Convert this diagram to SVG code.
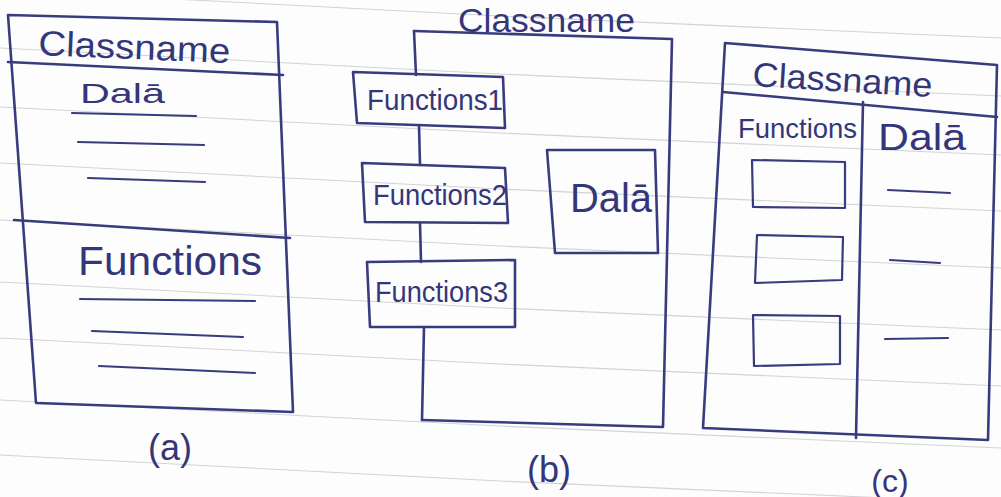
<svg xmlns="http://www.w3.org/2000/svg" width="1001" height="497" viewBox="0 0 1001 497">
<style>
.ink{fill:none;stroke:#383c7e;stroke-width:2.6;stroke-linejoin:round;stroke-linecap:round}
.thin{stroke-width:2.2}
.t{fill:#33377a;font-family:"Liberation Sans",Arial,sans-serif}
.rule{stroke:#d3d3d6;stroke-width:1.1;fill:none}
</style>
<rect width="1001" height="497" fill="#fdfdfd"/>
<g id="paper-rules">
<path class="rule" d="M0,-10 L500,16 L1001,38"/>
<path class="rule" d="M0,48 L500,74 L1001,96"/>
<path class="rule" d="M0,107 L500,133 L1001,155"/>
<path class="rule" d="M0,163 L500,189 L1001,211"/>
<path class="rule" d="M0,220 L500,246 L1001,268"/>
<path class="rule" d="M0,282 L500,308 L1001,330"/>
<path class="rule" d="M0,338 L500,364 L1001,386"/>
<path class="rule" d="M0,400 L500,426 L1001,448"/>
<path class="rule" d="M0,455 L500,481 L1001,503"/>
</g>

<!-- Panel (a) -->
<g id="class-a">
<path class="ink" d="M8,15 L277,22 L293,412 L36,403 Z"/>
<path class="ink" d="M8,62 L283,75"/>
<path class="ink" d="M14,220 L290,238"/>
<text class="t" x="38" y="55" font-size="35" textLength="192" lengthAdjust="spacingAndGlyphs" transform="rotate(2.4 38 55)">Classname</text>
<text class="t" x="80" y="103" font-size="28" textLength="85" lengthAdjust="spacingAndGlyphs">Dalā</text>
<path class="ink thin" d="M72,113 L196,116 M78,142 L204,145 M88,178 L205,182"/>
<text class="t" x="78" y="275" font-size="40" textLength="184" lengthAdjust="spacingAndGlyphs">Functions</text>
<path class="ink thin" d="M80,299 L255,301 M92,331 L243,337 M99,366 L255,373"/>
</g>
<text id="label-a" class="t" x="170" y="460" font-size="36" text-anchor="middle">(a)</text>

<!-- Panel (b) -->
<g id="class-b">
<path class="ink" d="M414,31 L672,39 L663,427 L422,420"/>
<text class="t" x="458" y="32" font-size="34" textLength="177" lengthAdjust="spacingAndGlyphs">Classname</text>
</g>
<g id="functions1">
<path class="ink" d="M353,72 L503,77 L505,128 L357,123 Z"/>
<text class="t" x="367" y="110" font-size="30" textLength="136" lengthAdjust="spacingAndGlyphs">Functions1</text>
</g>
<g id="functions2">
<path class="ink" d="M362,163 L505,168 L508,223 L365,222 Z"/>
<text class="t" x="373" y="205" font-size="30" textLength="134" lengthAdjust="spacingAndGlyphs">Functions2</text>
</g>
<g id="functions3">
<path class="ink" d="M367,262 L515,260 L515,327 L370,327 Z"/>
<text class="t" x="375" y="302" font-size="30" textLength="133" lengthAdjust="spacingAndGlyphs">Functions3</text>
</g>
<g id="data-b">
<path class="ink" d="M547,150 L655,150 L658,253 L555,253 Z"/>
<text class="t" x="570" y="212" font-size="40" textLength="82" lengthAdjust="spacingAndGlyphs">Dalā</text>
</g>
<g id="connectors">
<path class="ink" d="M414,31 L416,75"/>
<path class="ink" d="M419,125 L420,165"/>
<path class="ink" d="M420,223 L421,262"/>
<path class="ink" d="M424,327 L422,420"/>
</g>
<text id="label-b" class="t" x="549" y="482" font-size="36" text-anchor="middle">(b)</text>

<!-- Panel (c) -->
<g id="class-c">
<path class="ink" d="M725,43 L997,65 L988,440 L703,428 Z"/>
<path class="ink" d="M723,92 L997,117"/>
<path class="ink" d="M863,102 L856,438"/>
<text class="t" x="752" y="86" font-size="34" textLength="180" lengthAdjust="spacingAndGlyphs" transform="rotate(3.5 752 86)">Classname</text>
<text class="t" x="738" y="138" font-size="28" textLength="119" lengthAdjust="spacingAndGlyphs">Functions</text>
<text class="t" x="878" y="150" font-size="36" textLength="88" lengthAdjust="spacingAndGlyphs">Dalā</text>
<path class="ink thin" d="M752,160 L845,162 L845,208 L753,207 Z"/>
<path class="ink thin" d="M757,235 L843,237 L842,280 L755,283 Z"/>
<path class="ink thin" d="M753,315 L840,316 L840,364 L754,366 Z"/>
<path class="ink thin" d="M888,190 L950,193 M890,260 L940,263 M885,339 L948,338"/>
</g>
<text id="label-c" class="t" x="890" y="492" font-size="32" text-anchor="middle">(c)</text>
</svg>
